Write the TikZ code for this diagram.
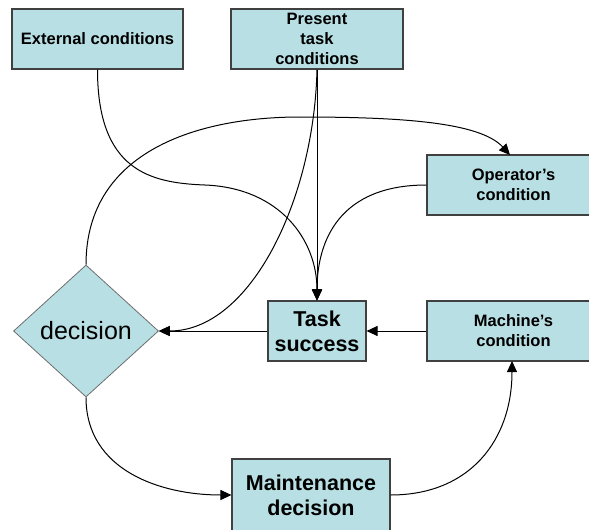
\documentclass[tikz,border=0pt]{standalone}
\usepackage{fontspec}
\setmainfont{Liberation Sans}
\usetikzlibrary{shapes.geometric,arrows.meta}
\definecolor{boxfill}{RGB}{184,223,227}
\definecolor{boxline}{RGB}{64,64,64}
\definecolor{diaml}{RGB}{110,110,110}
\tikzset{
  box/.style={rectangle,draw=boxline,line width=1.1pt,fill=boxfill,align=center,inner sep=0pt},
  smalltext/.style={font=\fontsize{16.5}{20}\selectfont\bfseries},
  bigtext/.style={font=\fontsize{21.5}{25}\selectfont\bfseries},
  conn/.style={draw=black,line width=1pt,-{Triangle[length=11pt,width=10pt]}},
  plainconn/.style={draw=black,line width=1pt},
}
\begin{document}
\begin{tikzpicture}[x=1pt,y=-1pt]
\useasboundingbox (0,0) rectangle (589,530);
\node[box,smalltext,minimum width=171pt,minimum height=60pt] (ext) at (97.5,39) {External conditions};
\node[box,smalltext,minimum width=172pt,minimum height=60pt] (pres) at (317,39) {Present\\task\\conditions};
\node[box,smalltext,minimum width=173pt,minimum height=60pt] (oper) at (513.5,185) {Operator’s\\condition};
\node[box,bigtext,minimum width=98pt,minimum height=60pt] (task) at (317,331) {Task\\success};
\node[box,smalltext,minimum width=173pt,minimum height=60pt] (mach) at (513.5,331) {Machine’s\\condition};
\node[box,bigtext,minimum width=158pt,minimum height=72pt] (maint) at (311,495) {Maintenance\\decision};
\node[diamond,draw=diaml,line width=0.8pt,fill=boxfill,inner sep=0pt,minimum width=145pt,minimum height=132pt,font=\fontsize{25}{28}\selectfont] (dec) at (86,331) {decision};

\coordinate (extmid) at (205,185);
\coordinate (peak) at (300,117);
\coordinate (opertop) at (510,155);
\coordinate (machbot) at (512,361);

\path[plainconn] (ext.south) .. controls +(0,101) and (150,183) .. (extmid);
\path[conn] (extmid) .. controls (280,188) and (317,240) .. (task.north);
\path[conn] (pres.south) -- (task.north);
\path[conn] (pres.south) .. controls +(-3,131) and (250,331) .. (dec.east);
\path[conn] (oper.west) .. controls (340,185) and (317,240) .. (task.north);
\path[plainconn] (dec.north) .. controls (86,150) and (200,117) .. (peak);
\path[conn] (peak) .. controls (400,117) and (480,122) .. (opertop);
\path[conn] (task.west) -- (dec.east);
\path[conn] (mach.west) -- (task.east);
\path[conn] (dec.south) .. controls (86,470) and (160,495) .. (maint.west);
\path[conn] (maint.east) .. controls (470,495) and (512,440) .. (machbot);
\end{tikzpicture}
\end{document}
